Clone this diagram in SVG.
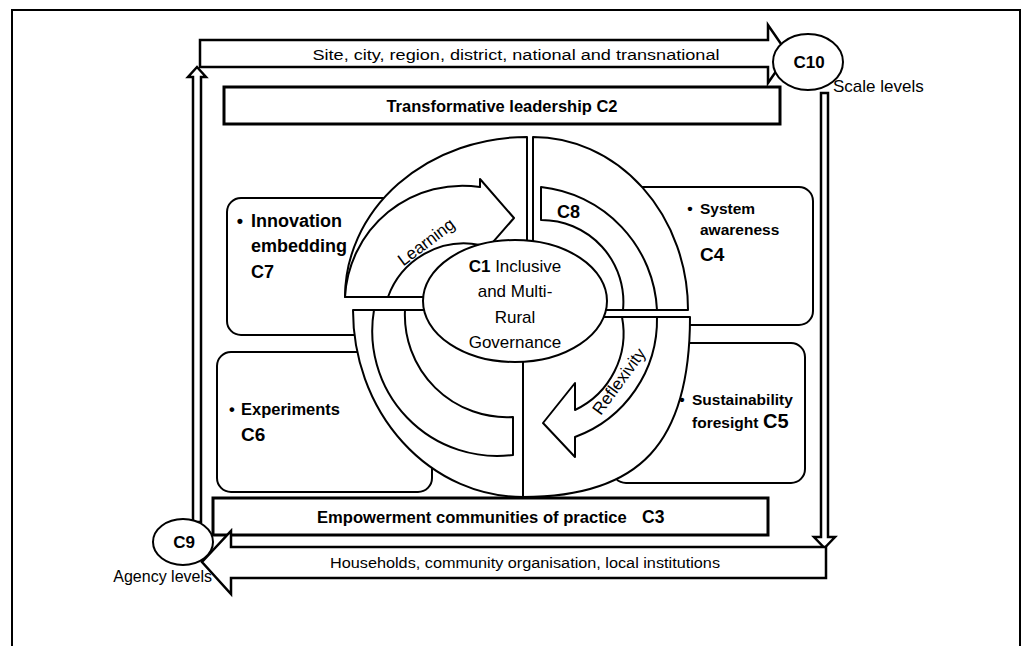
<svg xmlns="http://www.w3.org/2000/svg" width="1032" height="646" viewBox="0 0 1032 646">
<style>
.ln{fill:#fff;stroke:#000;stroke-width:2;stroke-linejoin:round}
.box{fill:#fff;stroke:#000;stroke-width:2}
.bar{fill:#fff;stroke:#000;stroke-width:3}
.arr{fill:#fff;stroke:#000;stroke-width:2.5;stroke-linejoin:miter}
text{font-family:"Liberation Sans",Arial,sans-serif;fill:#000}
.b{font-weight:bold}
</style>
<rect width="1032" height="646" fill="#fff"/>
<path d="M12,646 L12,10 L1020,10 L1020,646" fill="none" stroke="#000" stroke-width="2"/>

<g id="c7">
<rect class="box" x="227" y="198" width="220" height="137" rx="14"/>
<text class="b" font-size="18"><tspan x="240" y="227" text-anchor="middle">•</tspan><tspan x="251" y="227">Innovation</tspan><tspan x="251" y="252">embedding</tspan><tspan x="251" y="278">C7</tspan></text>
</g>
<g id="c4">
<rect class="box" x="590" y="187" width="223" height="138" rx="14"/>
<text class="b" font-size="15.5"><tspan x="690" y="214" text-anchor="middle">•</tspan><tspan x="700" y="214">System</tspan><tspan x="700" y="235">awareness</tspan><tspan x="700" y="261" font-size="19">C4</tspan></text>
</g>
<g id="c5">
<rect class="box" x="612" y="343" width="193" height="140" rx="14"/>
<text class="b" font-size="15.5"><tspan x="682" y="405" text-anchor="middle">•</tspan><tspan x="692" y="405">Sustainability</tspan><tspan x="692" y="428">foresight</tspan><tspan x="763" y="428" font-size="20">C5</tspan></text>
</g>
<g id="c6">
<rect class="box" x="217" y="352" width="215" height="140" rx="14"/>
<text class="b" font-size="16.5"><tspan x="232" y="415" text-anchor="middle">•</tspan><tspan x="241" y="415">Experiments</tspan><tspan x="241" y="441" font-size="19">C6</tspan></text>
</g>

<g id="cycle">
<path class="ln" d="M527,297 L527,137 A182,160 0 0 0 345,297 Z"/>
<path class="ln" d="M533,310 L533,137 A155,173 0 0 1 688,310 Z"/>
<path class="ln" d="M523,310 L353,310 A170,187 0 0 0 523,497 Z"/>
<path class="ln" d="M523,317 L690,317 C690,443 640,497 523,497 Z"/>
<path class="ln" d="M345,297 A117.5,117.5 0 0 1 480,187 L480,179 L514,218 L480,257 L480,245 A81,81 0 0 0 388,297 Z"/>
<path class="ln" d="M374,310 A125,125 0 0 0 513,455 L513,417 A102,102 0 0 1 405,310 Z"/>
<path class="ln" d="M541,187 A130,130 0 0 1 657,310 L623,310 A82,82 0 0 0 541,220 Z"/>
<path class="ln" d="M657,317 A125,125 0 0 1 575,437 L575,457 L543,423 L575,383 L575,410 A85,85 0 0 0 622,317 Z"/>
<text transform="translate(427,243) rotate(-37)" text-anchor="middle" dominant-baseline="middle" font-size="17">Learning</text>
<text transform="translate(620,382) rotate(-54)" text-anchor="middle" dominant-baseline="middle" font-size="17">Reflexivity</text>
<text x="557" y="218" class="b" font-size="18">C8</text>
</g>

<g id="c1">
<ellipse class="ln" cx="515" cy="301" rx="92" ry="61"/>
<text text-anchor="middle" font-size="17"><tspan x="515" y="272"><tspan font-weight="bold">C1</tspan> Inclusive</tspan><tspan x="515" y="297">and Multi-</tspan><tspan x="515" y="323">Rural</tspan><tspan x="515" y="348">Governance</tspan></text>
</g>

<g id="c2">
<rect class="bar" x="224" y="87" width="556" height="37"/>
<text x="502" y="112" text-anchor="middle" class="b" font-size="16.5">Transformative leadership C2</text>
</g>
<g id="c3">
<rect class="bar" x="213" y="498" width="555" height="37"/>
<text class="b" font-size="16.6"><tspan x="317" y="523">Empowerment communities of practice</tspan><tspan x="642" y="523" font-size="17.5">C3</tspan></text>
</g>

<g id="connectors">
<path class="arr" d="M200,40 L768,40 L768,25 L788,54 L768,83 L768,67 L200,67 Z"/>
<path class="arr" d="M821,93 L828,93 L828,537 L835,537 L824.5,548 L814,537 L821,537 Z"/>
<path class="arr" d="M193,522 L193,77 L188,77 L197,67 L206,77 L201,77 L201,522 Z"/>
<path class="arr" d="M826,547 L826,578 L231,578 L231,594 L202,562 L231,531 L231,547 Z"/>
<text x="516" y="60" text-anchor="middle" font-size="15.5" textLength="407" lengthAdjust="spacingAndGlyphs">Site, city, region, district, national and transnational</text>
<text x="525" y="568" text-anchor="middle" font-size="14" textLength="390" lengthAdjust="spacingAndGlyphs">Households, community organisation, local institutions</text>
</g>

<g id="c10">
<ellipse class="ln" cx="808" cy="62" rx="35" ry="28"/>
<text x="809" y="68" text-anchor="middle" class="b" font-size="17">C10</text>
<text x="833" y="92" font-size="17">Scale levels</text>
</g>
<g id="c9">
<ellipse class="ln" cx="183" cy="542" rx="30" ry="23"/>
<text x="184" y="548" text-anchor="middle" class="b" font-size="17">C9</text>
<text x="212" y="582" text-anchor="end" font-size="16">Agency levels</text>
</g>
</svg>
